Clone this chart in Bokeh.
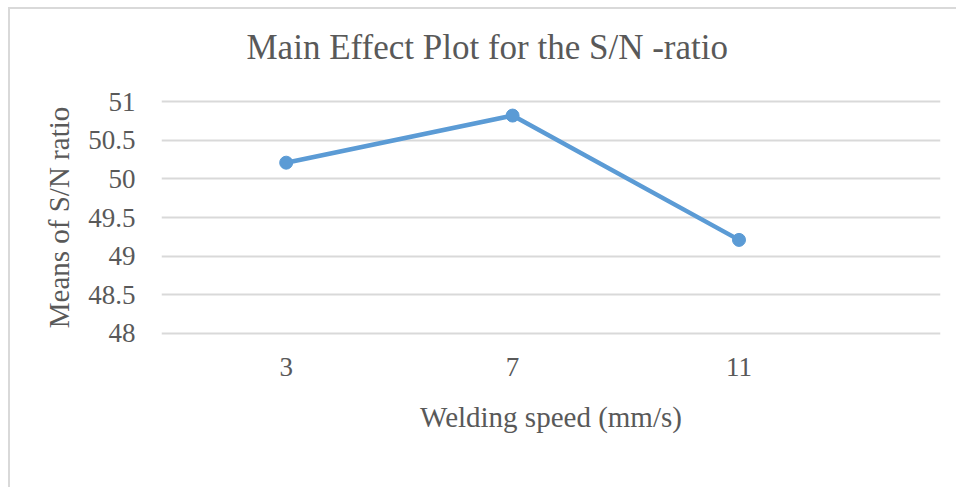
from bokeh.plotting import figure
from bokeh.models import FixedTicker, Range1d, Title
from bokeh.embed import file_html
from bokeh.resources import INLINE

# data
speeds = [3, 7, 11]
sn_means = [50.21, 50.82, 49.21]
y_ticks = [48, 48.5, 49, 49.5, 50, 50.5, 51]
y_tick_labels = ["48", "48.5", "49", "49.5", "50", "50.5", "51"]
x_ticks = [3, 7, 11]
x_tick_labels = ["3", "7", "11"]
title_text = "Main Effect Plot for the S/N -ratio"

TEXT = "#595959"
GRID = "#d9d9d9"
BLUE = "#5b9bd5"
FONT = "Liberation Serif"

p = figure(width=948, height=480, output_backend="svg", toolbar_location=None,
           x_range=Range1d(0.797, 14.56), y_range=Range1d(47.92, 51.08),
           min_border_left=151, min_border_right=18, min_border_top=86,
           min_border_bottom=150, background_fill_color="white",
           border_fill_color="white", outline_line_color=None, title=None)
p.styles = {"border-left": "2px solid #d9d9d9", "border-top": "2px solid #d9d9d9",
            "margin-left": "8px", "margin-top": "7px"}

# spacer between title and plot area (nearest to the frame), then the title
p.add_layout(Title(text=" ", text_font_size="1px", standoff=16), "above")
p.add_layout(Title(text=title_text, text_font=FONT, text_font_size="35px",
                   text_font_style="normal", text_color=TEXT, align="left",
                   offset=85, standoff=20), "above")

p.line(speeds, sn_means, line_color=BLUE, line_width=4.5)
p.scatter(speeds, sn_means, size=13, fill_color=BLUE, line_color=BLUE)

p.xgrid.grid_line_color = None
p.ygrid.grid_line_color = GRID
p.ygrid.grid_line_width = 2
p.yaxis.ticker = FixedTicker(ticks=y_ticks)
p.yaxis.major_label_overrides = dict(zip(y_ticks, y_tick_labels))
p.xaxis.ticker = FixedTicker(ticks=x_ticks)
p.xaxis.major_label_overrides = dict(zip(x_ticks, x_tick_labels))

for ax in (p.xaxis, p.yaxis):
    ax.axis_line_color = None
    ax.major_tick_line_color = None
    ax.minor_tick_line_color = None
    ax.major_tick_out = 0
    ax.major_tick_in = 0
    ax.major_label_text_font = FONT
    ax.major_label_text_font_size = "27px"
    ax.major_label_text_color = TEXT
    ax.axis_label_text_font = FONT
    ax.axis_label_text_font_size = "29px"
    ax.axis_label_text_font_style = "normal"
    ax.axis_label_text_color = TEXT

p.xaxis.axis_label = "Welding speed (mm/s)"
p.yaxis.axis_label = "Means of S/N ratio"
p.yaxis.major_label_standoff = 26
p.yaxis.axis_label_standoff = 10
p.xaxis.major_label_standoff = 18
p.xaxis.axis_label_standoff = 22

open("out.html", "w").write(file_html(p, INLINE))
